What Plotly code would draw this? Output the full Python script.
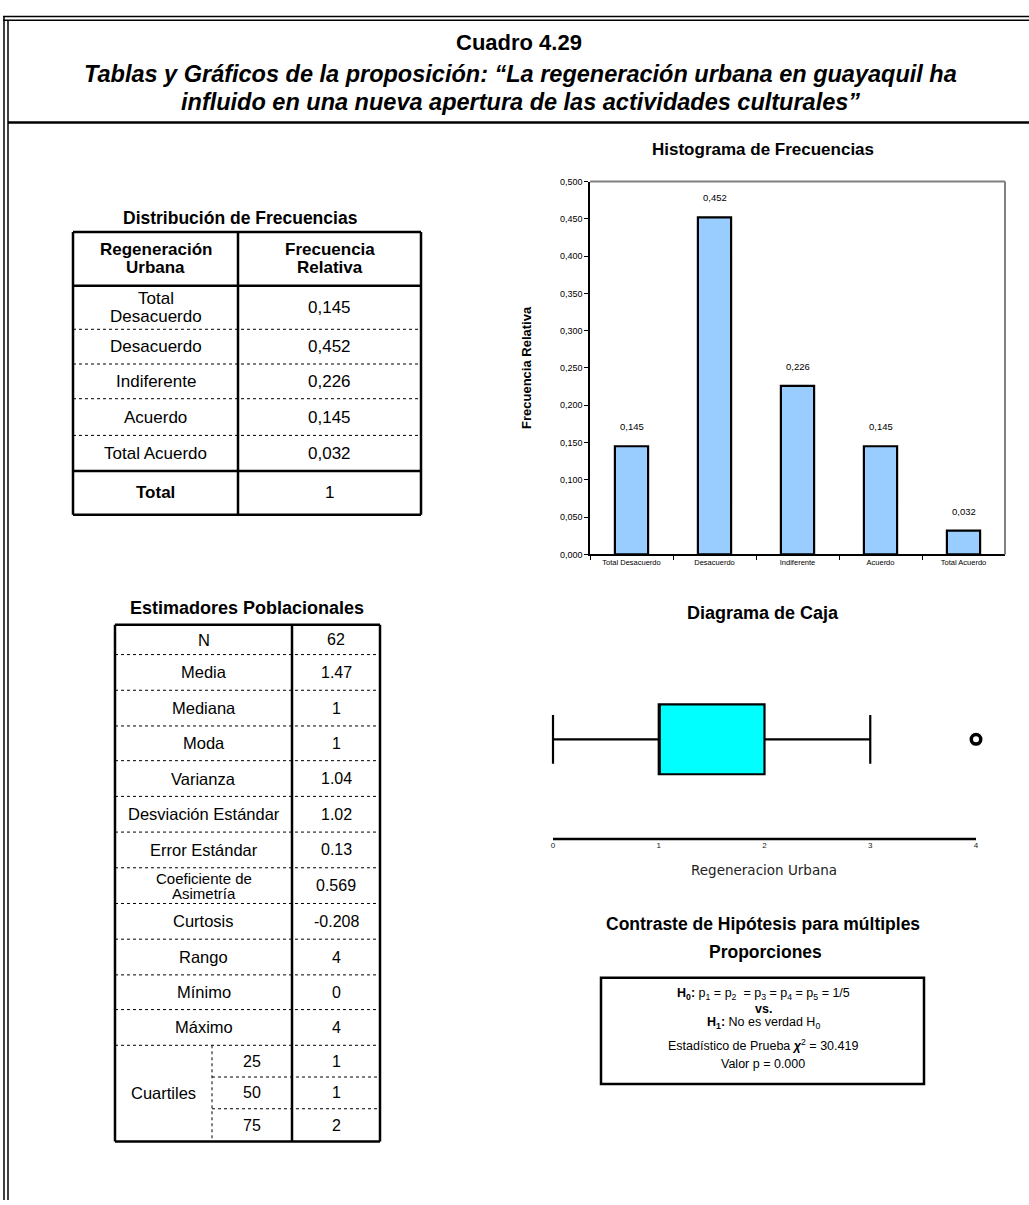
import plotly.graph_objects as go

W, H = 1029, 1205
FONT = "Arial, 'Liberation Sans', sans-serif"

# ---------------- data ----------------
categories = ["Total Desacuerdo", "Desacuerdo", "Indiferente", "Acuerdo", "Total Acuerdo"]
rel_freq = [0.145, 0.452, 0.226, 0.145, 0.032]
table1_labels = ["Total<br>Desacuerdo", "Desacuerdo", "Indiferente", "Acuerdo", "Total Acuerdo"]
table1_total = "1"

est_labels = ["N", "Media", "Mediana", "Moda", "Varianza", "Desviación Estándar",
              "Error Estándar", "Coeficiente de<br>Asimetría", "Curtosis", "Rango",
              "Mínimo", "Máximo"]
est_values = ["62", "1.47", "1", "1", "1.04", "1.02", "0.13", "0.569", "-0.208", "4", "0", "4"]
quartile_pcts = ["25", "50", "75"]
quartile_values = ["1", "1", "2"]

box_q1 = [1]
box_median = [1]
box_q3 = [2]
box_lowerfence = [0]
box_upperfence = [3]
box_outliers = [4]
box_ticks = [0, 1, 2, 3, 4]

hyp_lines = [
    "<b>H<sub>0</sub>:</b> p<sub>1</sub> = p<sub>2</sub>  = p<sub>3</sub> = p<sub>4</sub> = p<sub>5</sub> = 1/5",
    "<b>vs.</b>",
    "<b>H<sub>1</sub>:</b> No es verdad H<sub>0</sub>",
    "Estadístico de Prueba <b><i>χ</i></b><sup>2</sup> = 30.419",
    "Valor p = 0.000",
]


# ---------------- helpers (pixel -> paper) ----------------
def px(x):
    return x / W


def py(y):
    return 1 - y / H


annotations = []
shapes = []


def text(x, y, s, size, bold=False, italic=False, xanchor="center", angle=0,
         color="black", family=FONT):
    if bold:
        s = "<b>" + s + "</b>"
    if italic:
        s = "<i>" + s + "</i>"
    annotations.append(dict(x=px(x), y=py(y), xref="paper", yref="paper", text=s,
                            showarrow=False, xanchor=xanchor, yanchor="middle",
                            textangle=angle, font=dict(family=family, size=size, color=color)))


def text_lines(x, yc, s, size, gap, bold=False):
    parts = s.split("<br>")
    n = len(parts)
    for k, p in enumerate(parts):
        text(x, yc + (k - (n - 1) / 2) * gap, p, size, bold=bold)


def line(x0, y0, x1, y1, width=1.0, dash="solid", color="black"):
    shapes.append(dict(type="line", xref="paper", yref="paper",
                       x0=px(x0), y0=py(y0), x1=px(x1), y1=py(y1),
                       line=dict(color=color, width=width, dash=dash)))


# ---------------- outer frame ----------------
line(3, 11.5, W, 11.5, 1.5)
line(3, 15.5, W, 15.5, 1.5)
line(4, 11, 4, H, 1.5)
line(8, 15, 8, H, 1.5)
line(8, 118.5, W, 118.5, 2.5)

text(519, 38, "Cuadro 4.29", 22, bold=True)
text(520, 70, "Tablas y Gráficos de la proposición: “La regeneración urbana en guayaquil ha", 23.5, bold=True, italic=True)
text(520, 98, "influido en una nueva apertura de las actividades culturales”", 23.5, bold=True, italic=True)

# ---------------- table 1 ----------------
text(240, 215, "Distribución de Frecuencias", 17.5, bold=True)
t1x = [73, 238, 421]
t1y = [229, 283, 327, 362, 397, 434, 470, 514]
line(t1x[0], t1y[0], t1x[2], t1y[0], 2.5)
line(t1x[0], t1y[-1], t1x[2], t1y[-1], 2.5)
line(t1x[0], t1y[0], t1x[0], t1y[-1], 2.5)
line(t1x[2], t1y[0], t1x[2], t1y[-1], 2.5)
line(t1x[1], t1y[0], t1x[1], t1y[-1], 2.5)
line(t1x[0], t1y[1], t1x[2], t1y[1], 2.5)
line(t1x[0], t1y[6], t1x[2], t1y[6], 2.5)
for yy in t1y[2:6]:
    line(t1x[0], yy, t1x[2], yy, 1, "dot")
c1 = (t1x[0] + t1x[1]) / 2
c2 = (t1x[1] + t1x[2]) / 2
text_lines(c1, (t1y[0] + t1y[1]) / 2, "Regeneración<br>Urbana", 17, 18, bold=True)
text_lines(c2, (t1y[0] + t1y[1]) / 2, "Frecuencia<br>Relativa", 17, 18, bold=True)
for i, (lab, v) in enumerate(zip(table1_labels, rel_freq)):
    yc = (t1y[1 + i] + t1y[2 + i]) / 2
    text_lines(c1, yc, lab, 17, 18)
    text(c2, yc, f"{v:.3f}".replace(".", ","), 17)
yc = (t1y[6] + t1y[7]) / 2
text(c1, yc, "Total", 17, bold=True)
text(c2, yc, table1_total, 17)

# ---------------- table 2 ----------------
text(247, 608, "Estimadores Poblacionales", 18, bold=True)
t2x = [115, 212, 292, 380]
t2y = [625, 655, 691, 727, 762, 798, 834, 870, 906, 942, 978, 1013, 1049, 1081, 1113, 1146]
line(t2x[0], t2y[0], t2x[3], t2y[0], 2.5)
line(t2x[0], t2y[-1], t2x[3], t2y[-1], 2.5)
line(t2x[0], t2y[0], t2x[0], t2y[-1], 2.5)
line(t2x[3], t2y[0], t2x[3], t2y[-1], 2.5)
line(t2x[2], t2y[0], t2x[2], t2y[-1], 2.5)
for yy in t2y[1:13]:
    line(t2x[0], yy, t2x[3], yy, 1, "dot")
for yy in t2y[13:15]:
    line(t2x[1], yy, t2x[3], yy, 1, "dot")
line(t2x[1], t2y[12], t2x[1], t2y[15], 1, "dot")
cl = (t2x[0] + t2x[2]) / 2
cv = (t2x[2] + t2x[3]) / 2
for i, (lab, v) in enumerate(zip(est_labels, est_values)):
    yc = (t2y[i] + t2y[i + 1]) / 2
    if "<br>" in lab:
        text_lines(cl, yc, lab, 15, 15)
    else:
        text(cl, yc, lab, 16.5)
    text(cv, yc, v, 16)
text((t2x[0] + t2x[1]) / 2, (t2y[12] + t2y[15]) / 2, "Cuartiles", 16.5)
for j, (p, v) in enumerate(zip(quartile_pcts, quartile_values)):
    yc = (t2y[12 + j] + t2y[13 + j]) / 2
    text((t2x[1] + t2x[2]) / 2, yc, p, 16)
    text(cv, yc, v, 16)

# ---------------- histogram ----------------
text(763, 146, "Histograma de Frecuencias", 17, bold=True)
text(527, 366, "Frecuencia Relativa", 13, bold=True, angle=-90)

fig = go.Figure()
fig.add_trace(go.Bar(
    x=categories, y=rel_freq, width=0.4,
    marker=dict(color="#99CCFF", line=dict(color="black", width=2.2)),
    xaxis="x", yaxis="y", showlegend=False, hoverinfo="skip",
))
for c, v in zip(categories, rel_freq):
    annotations.append(dict(x=c, y=v, xref="x", yref="y", text=f"{v:.3f}".replace(".", ","),
                            showarrow=False, yanchor="bottom", yshift=12,
                            font=dict(family=FONT, size=9.5, color="black")))
shapes.append(dict(type="line", xref="x domain", yref="y domain", x0=0, x1=1, y0=1, y1=1,
                   line=dict(color="#808080", width=2)))
shapes.append(dict(type="line", xref="x domain", yref="y domain", x0=1, x1=1, y0=0, y1=1,
                   line=dict(color="#808080", width=2)))

# ---------------- box plot ----------------
text(763, 613, "Diagrama de Caja", 18, bold=True)
text(764, 872, "Regeneracion Urbana", 13.5, color="#222222",
     family="'DejaVu Sans', Verdana, sans-serif")

fig.add_trace(go.Box(
    orientation="h", y=[0], q1=box_q1, median=box_median, q3=box_q3,
    lowerfence=box_lowerfence, upperfence=box_upperfence,
    width=0.7, whiskerwidth=0.7, boxpoints=False,
    fillcolor="#00FFFF", line=dict(color="black", width=2.2),
    xaxis="x2", yaxis="y2", showlegend=False, hoverinfo="skip",
))
fig.add_trace(go.Scatter(
    x=box_outliers, y=[0] * len(box_outliers), mode="markers",
    marker=dict(symbol="circle-open", size=9.5, color="black", line=dict(color="black", width=3.5)),
    xaxis="x2", yaxis="y2", showlegend=False, hoverinfo="skip", cliponaxis=False,
))
shapes.append(dict(type="line", xref="x2", yref="y2 domain", x0=box_ticks[0], x1=box_ticks[-1],
                   y0=0, y1=0, line=dict(color="black", width=2.5)))

# box x-axis geometry: 0 -> 553 px, 4 -> 976 px
u = (976 - 553) / 4
bx0 = 553 - 0.1 * u
bx1 = 976 + 0.1 * u

# ---------------- hypothesis ----------------
text(763, 927, "Contraste de Hipótesis para múltiples", 17.5, bold=True)
text(765, 955, "Proporciones", 17.5, bold=True)
shapes.append(dict(type="rect", xref="paper", yref="paper", x0=px(601), x1=px(924),
                   y0=py(981), y1=py(1088), line=dict(color="black", width=2.5)))
for s, yy in zip(hyp_lines, [997, 1012, 1027, 1049, 1068]):
    text(763, yy, s, 12.5)

fig.update_layout(
    width=W, height=H, margin=dict(l=0, r=0, t=0, b=0),
    paper_bgcolor="white", plot_bgcolor="white",
    separators=",.",
    font=dict(family=FONT, color="black"),
    xaxis=dict(domain=[px(590), px(1005)], anchor="y", type="category",
               range=[-0.5, 4.5], showline=True, linecolor="black", linewidth=1.5,
               ticks="outside", tickson="boundaries", ticklen=4, tickcolor="black",
               tickfont=dict(size=7.5, family=FONT), showgrid=False),
    yaxis=dict(domain=[py(554), py(178)], anchor="x", range=[0, 0.5], dtick=0.05,
               tickformat=".3f", showline=True, linecolor="black", linewidth=1.5,
               ticks="outside", ticklen=4, tickcolor="black",
               tickfont=dict(size=9, family=FONT), showgrid=False, zeroline=False),
    xaxis2=dict(domain=[px(bx0), px(bx1)], anchor="y2", range=[-0.1, 4.1],
                tickvals=box_ticks, ticks="", showline=False, showgrid=False, zeroline=False,
                tickfont=dict(size=8, family=FONT, color="#222222")),
    yaxis2=dict(domain=[py(841), py(640)], anchor="x2", range=[-1, 1], visible=False),
    annotations=annotations,
    shapes=shapes,
)

fig.write_html("out.html", config={"displayModeBar": False},
               post_script="document.body.style.margin='0px';")
